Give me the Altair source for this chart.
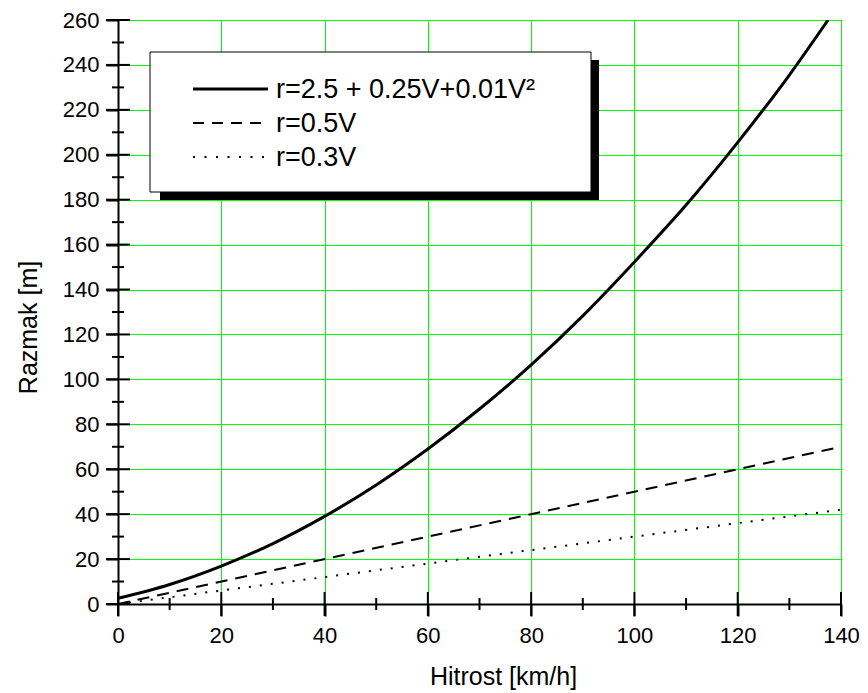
import altair as alt
import pandas as pd

# ---- data ----
V_curve = [0, 10, 20, 30, 40, 50, 60, 70, 80, 90, 100, 110, 120, 130, 137.5]
r_curve = [2.5, 8.7, 16.9, 26.9, 39.0, 53.0, 69.0, 86.8, 106.5, 128.3, 152.3, 177.6, 205.5, 235.5, 260.0]
V_line = [0, 70, 140]
r_half = [0, 35, 70]
r_third = [0, 21, 42]

x_major = [0, 20, 40, 60, 80, 100, 120, 140]
x_minor = [10, 30, 50, 70, 90, 110, 130]
y_major = [0, 20, 40, 60, 80, 100, 120, 140, 160, 180, 200, 220, 240, 260]
y_minor = [10, 30, 50, 70, 90, 110, 130, 150, 170, 190, 210, 230, 250]

legend_labels = ["r=2.5 + 0.25V+0.01V\u00b2", "r=0.5V", "r=0.3V"]

FONT = "Liberation Sans"
W, H = 723, 584
GREEN = "#00ff00"

xscale = alt.Scale(domain=[0, 140], nice=False, zero=False)
yscale = alt.Scale(domain=[0, 260], nice=False, zero=False)

xaxis = alt.Axis(values=x_major, title="Hitrost [km/h]", format="d",
                 grid=True, gridColor=GREEN, gridWidth=1, gridOpacity=1,
                 domainColor="black", domainWidth=2,
                 tickColor="black", tickWidth=2, tickSize=12,
                 labelFont=FONT, labelFontSize=22, labelColor="black",
                 labelPadding=9, labelFlush=False, labelOverlap=False,
                 titleFont=FONT, titleFontSize=25, titleFontWeight="normal",
                 titleColor="black", titleX=385, titleY=80,
                 titleBaseline="alphabetic", titleAlign="center")
yaxis = alt.Axis(values=y_major, title="Razmak [m]", format="d",
                 grid=True, gridColor=GREEN, gridWidth=1, gridOpacity=1,
                 domainColor="black", domainWidth=2,
                 tickColor="black", tickWidth=2, tickSize=12,
                 labelFont=FONT, labelFontSize=22, labelColor="black",
                 labelPadding=7, labelFlush=False, labelOverlap=False,
                 titleFont=FONT, titleFontSize=25, titleFontWeight="normal",
                 titleColor="black", titleX=-82, titleY=307, titleAngle=270,
                 titleBaseline="alphabetic", titleAlign="center")

xenc = alt.X("V:Q", scale=xscale, axis=xaxis)
yenc = alt.Y("r:Q", scale=yscale, axis=yaxis)

df_curve = pd.DataFrame({"V": V_curve, "r": r_curve})
df_half = pd.DataFrame({"V": V_line, "r": r_half})
df_third = pd.DataFrame({"V": V_line, "r": r_third})

curve = alt.Chart(df_curve).mark_line(color="black", strokeWidth=3, interpolate="monotone", clip=True).encode(x=xenc, y=yenc)
half = alt.Chart(df_half).mark_line(color="black", strokeWidth=2, strokeDash=[12, 8], clip=True).encode(x=xenc, y=yenc)
third = alt.Chart(df_third).mark_line(color="black", strokeWidth=2, strokeDash=[2, 9], clip=True).encode(x=xenc, y=yenc)

# crossing ticks
yt_major = alt.Chart(pd.DataFrame({"r": y_major})).mark_rule(color="black", strokeWidth=2).encode(
    y=yenc, x=alt.value(-12), x2=alt.value(12))
yt_minor = alt.Chart(pd.DataFrame({"r": y_minor})).mark_rule(color="black", strokeWidth=2).encode(
    y=yenc, x=alt.value(-6), x2=alt.value(6))
xt_major = alt.Chart(pd.DataFrame({"V": x_major})).mark_rule(color="black", strokeWidth=2).encode(
    x=xenc, y=alt.value(H - 12), y2=alt.value(H + 12))
xt_minor = alt.Chart(pd.DataFrame({"V": x_minor})).mark_rule(color="black", strokeWidth=2).encode(
    x=xenc, y=alt.value(H - 6), y2=alt.value(H + 6))

# legend box with shadow
one = pd.DataFrame({"a": [0]})
shadow = alt.Chart(one).mark_rect(color="black").encode(
    x=alt.value(42), x2=alt.value(481), y=alt.value(40), y2=alt.value(180))
box = alt.Chart(one).mark_rect(fill="white", stroke="black", strokeWidth=1).encode(
    x=alt.value(32), x2=alt.value(473), y=alt.value(32), y2=alt.value(172))

rows_y = [69, 103, 137]
dashes = [[1, 0], [11, 8], [2, 9.5]]
widths = [3, 2, 2]
legend_layers = []
for i in range(3):
    legend_layers.append(
        alt.Chart(one).mark_rule(color="black", strokeWidth=widths[i], strokeDash=dashes[i]).encode(
            x=alt.value(75), x2=alt.value(150), y=alt.value(rows_y[i])))
    legend_layers.append(
        alt.Chart(one).mark_text(text=legend_labels[i], align="left", baseline="middle",
                                 font=FONT, fontSize=27, color="black").encode(
            x=alt.value(158), y=alt.value(rows_y[i] + 1)))

chart = alt.layer(curve, half, third, yt_major, yt_minor, xt_major, xt_minor,
                  shadow, box, *legend_layers).properties(
    width=W, height=H,
    padding={"left": 110, "top": 12, "right": 19, "bottom": 88},
    autosize=alt.AutoSizeParams(type="none"),
    background="white",
).configure_view(stroke="black", strokeWidth=1, fill="white")

chart.save("out.html", embed_options={"renderer": "svg", "actions": False})
